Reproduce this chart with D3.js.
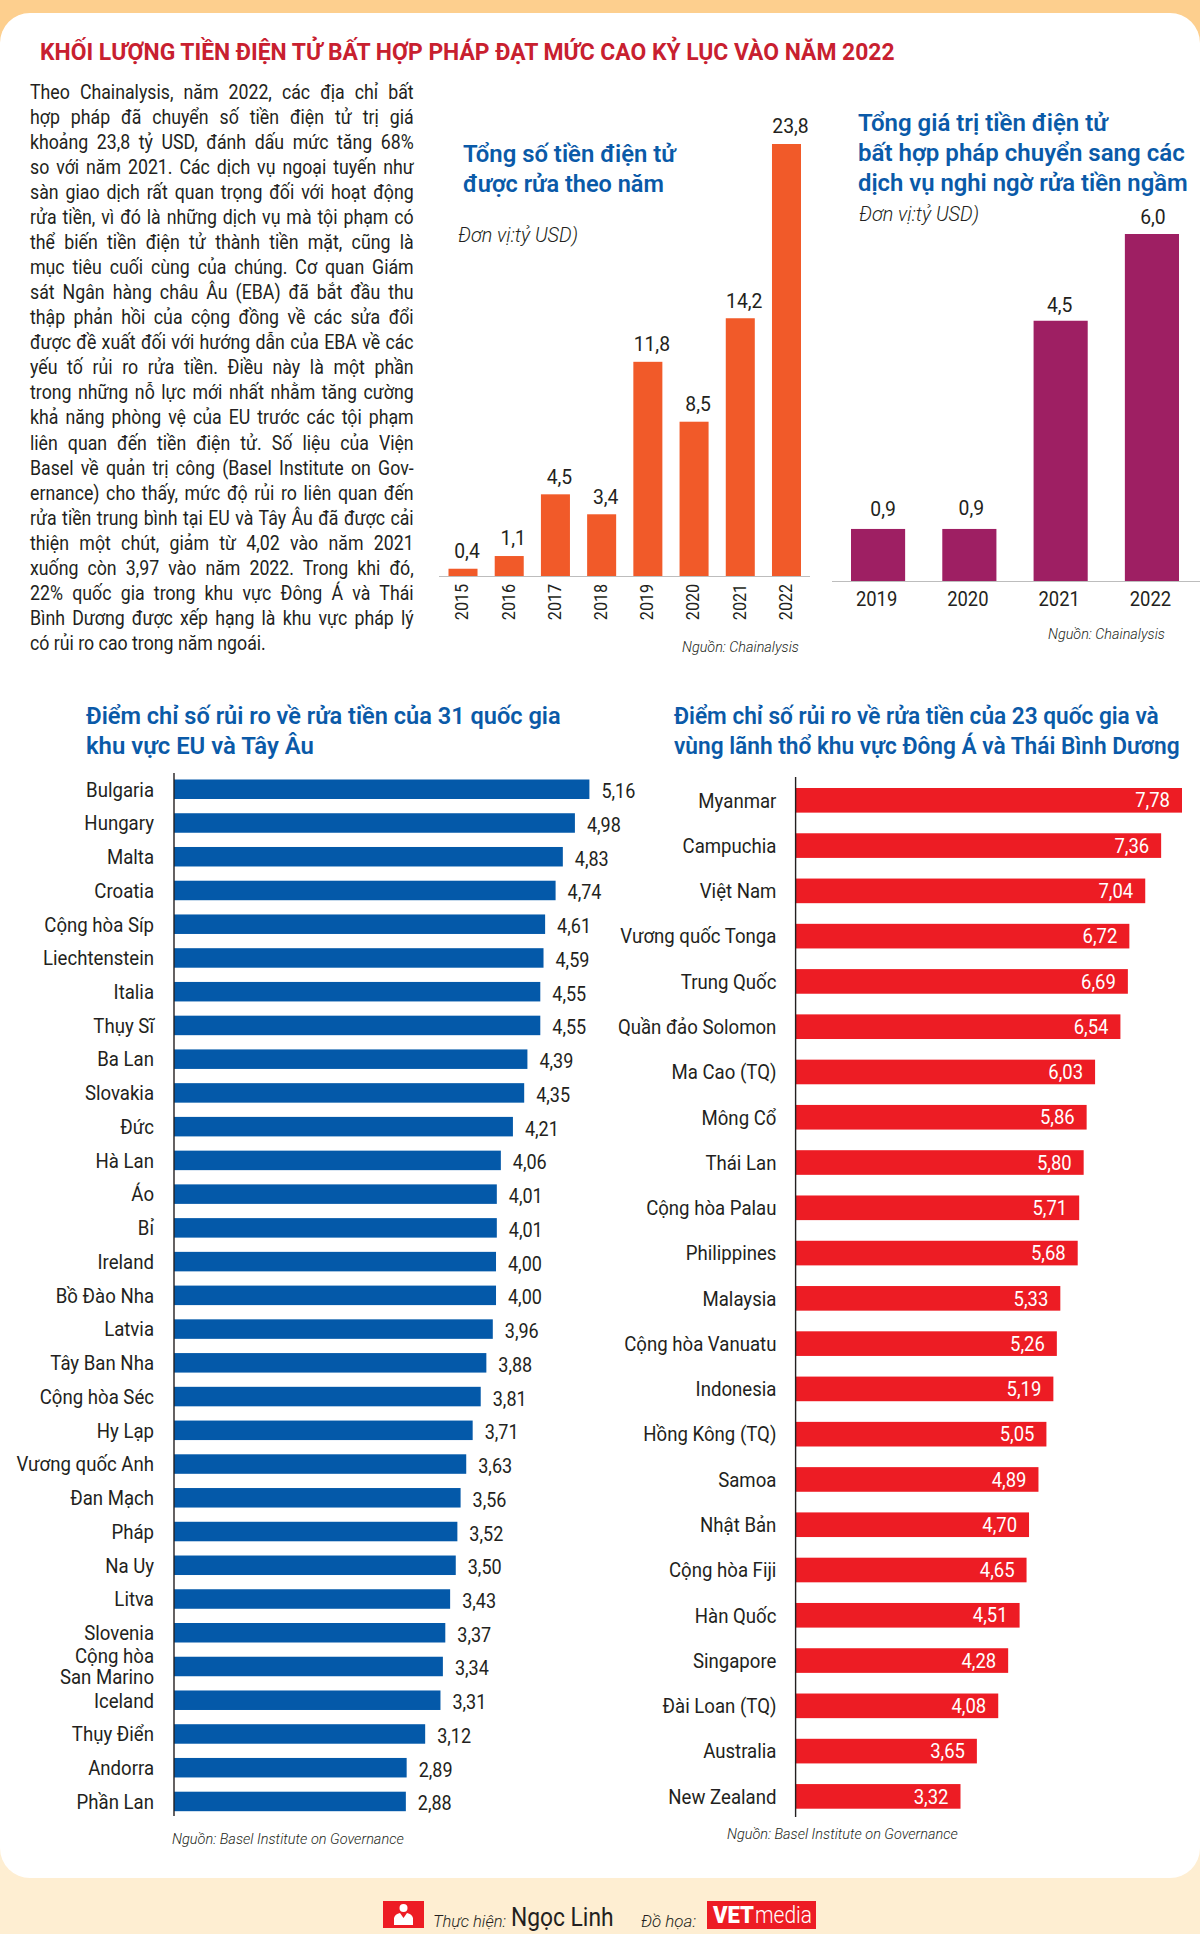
<!DOCTYPE html>
<html><head><meta charset="utf-8">
<script src="https://cdn.jsdelivr.net/npm/d3@7"></script>
<style>html,body{margin:0;padding:0;background:#feeed2}svg{display:block}text{font-family:Roboto,sans-serif;fill:#231f20}</style>
</head><body><div id="c"></div>
<script>
const mainTitle="KHỐI LƯỢNG TIỀN ĐIỆN TỬ BẤT HỢP PHÁP ĐẠT MỨC CAO KỶ LỤC VÀO NĂM 2022";
const bodyLines=["Theo Chainalysis, năm 2022, các địa chỉ bất","hợp pháp đã chuyển số tiền điện tử trị giá","khoảng 23,8 tỷ USD, đánh dấu mức tăng 68%","so với năm 2021. Các dịch vụ ngoại tuyến như","sàn giao dịch rất quan trọng đối với hoạt động","rửa tiền, vì đó là những dịch vụ mà tội phạm có","thể biến tiền điện tử thành tiền mặt, cũng là","mục tiêu cuối cùng của chúng. Cơ quan Giám","sát Ngân hàng châu Âu (EBA) đã bắt đầu thu","thập phản hồi của cộng đồng về các sửa đổi","được đề xuất đối với hướng dẫn của EBA về các","yếu tố rủi ro rửa tiền. Điều này là một phần","trong những nỗ lực mới nhất nhằm tăng cường","khả năng phòng vệ của EU trước các tội phạm","liên quan đến tiền điện tử. Số liệu của Viện","Basel về quản trị công (Basel Institute on Gov-","ernance) cho thấy, mức độ rủi ro liên quan đến","rửa tiền trung bình tại EU và Tây Âu đã được cải","thiện một chút, giảm từ 4,02 vào năm 2021","xuống còn 3,97 vào năm 2022. Trong khi đó,","22% quốc gia trong khu vực Đông Á và Thái","Bình Dương được xếp hạng là khu vực pháp lý","có rủi ro cao trong năm ngoái."];
const launderYears=["2015","2016","2017","2018","2019","2020","2021","2022"];
const launderValues=[0.4,1.1,4.5,3.4,11.8,8.5,14.2,23.8];
const suspectYears=["2019","2020","2021","2022"];
const suspectValues=[0.9,0.9,4.5,6.0];
const euNames=["Bulgaria","Hungary","Malta","Croatia","Cộng hòa Síp","Liechtenstein","Italia","Thụy Sĩ","Ba Lan","Slovakia","Đức","Hà Lan","Áo","Bỉ","Ireland","Bồ Đào Nha","Latvia","Tây Ban Nha","Cộng hòa Séc","Hy Lạp","Vương quốc Anh","Đan Mạch","Pháp","Na Uy","Litva","Slovenia","Cộng hòa\nSan Marino","Iceland","Thụy Điển","Andorra","Phần Lan"];
const euValues=[5.16,4.98,4.83,4.74,4.61,4.59,4.55,4.55,4.39,4.35,4.21,4.06,4.01,4.01,4.00,4.00,3.96,3.88,3.81,3.71,3.63,3.56,3.52,3.50,3.43,3.37,3.34,3.31,3.12,2.89,2.88];
const apNames=["Myanmar","Campuchia","Việt Nam","Vương quốc Tonga","Trung Quốc","Quần đảo Solomon","Ma Cao (TQ)","Mông Cổ","Thái Lan","Cộng hòa Palau","Philippines","Malaysia","Cộng hòa Vanuatu","Indonesia","Hồng Kông (TQ)","Samoa","Nhật Bản","Cộng hòa Fiji","Hàn Quốc","Singapore","Đài Loan (TQ)","Australia","New Zealand"];
const apValues=[7.78,7.36,7.04,6.72,6.69,6.54,6.03,5.86,5.80,5.71,5.68,5.33,5.26,5.19,5.05,4.89,4.70,4.65,4.51,4.28,4.08,3.65,3.32];

const BLUE="#0a5aa8",INK="#231f20",NAME_CONDENSE=0.93;
const fmt1=v=>d3.format(".1f")(v).replace(".",","), fmt2=v=>d3.format(".2f")(v).replace(".",",");
const svg=d3.select("#c").append("svg").attr("width",1200).attr("height",1934);

svg.append("rect").attr("width",1200).attr("height",60).attr("fill","#fdcf8e");
svg.append("rect").attr("y",60).attr("width",1200).attr("height",1874).attr("fill","#feeed2");
svg.append("rect").attr("y",13).attr("width",1200).attr("height",1865).attr("rx",30).attr("fill","#fff");

function squeeze(sel,f){sel.each(function(){const w=this.getComputedTextLength();
  d3.select(this).attr("textLength",w*f).attr("lengthAdjust","spacingAndGlyphs");});return sel;}
function put(t,x,y,size,o={}){
  const s=svg.append("text").text(t).attr("dy",".35em").attr("font-size",size)
    .attr("font-weight",o.weight||400).attr("font-style",o.italic?"italic":"normal")
    .style("fill",o.fill||INK).attr("text-anchor",o.anchor||"start");
  const k=o.width?o.width/s.node().getComputedTextLength():1;
  s.attr("transform",`translate(${x},${y}) scale(${k},1)`);
  return s;}

put(mainTitle,40,51,24.5,{weight:700,fill:"#c8202f",width:855});

bodyLines.forEach((l,i)=>{
  const y=92+i*25.05,tw=384;
  const g=svg.append("g").attr("transform",`translate(30,${y})`);
  const t=g.append("text").text(l).attr("dy",".35em").attr("font-size",19.5);
  const w=t.node().getComputedTextLength();
  let c=0.91; if(w*c>tw) c=tw/w;
  const last=i===bodyLines.length-1;
  if(!last&&w*c<tw){const n=l.split(" ").length-1;t.style("word-spacing",((tw/c-w)/n)+"px");}
  g.attr("transform",`translate(30,${y}) scale(${c},1)`);
});

// Chart 1
put("Tổng số tiền điện tử",463,153,24.5,{weight:600,fill:BLUE,width:213});
put("được rửa theo năm",463,183.5,24.5,{weight:600,fill:BLUE,width:201});
put("Đơn vị:tỷ USD)",458,235,20,{italic:true,weight:300,width:120});
const x1=d3.scaleBand().domain(launderYears).range([448.5,801]).paddingInner(0.372);
const y1=d3.scaleLinear().domain([0,23.8]).range([576,144]);
svg.append("g").selectAll("rect").data(launderValues).join("rect")
  .attr("x",(d,i)=>x1(launderYears[i])).attr("width",x1.bandwidth())
  .attr("y",d=>y1(d)).attr("height",d=>y1(0)-y1(d)).attr("fill","#f15a29");
svg.append("line").attr("x1",439).attr("x2",810).attr("y1",576.5).attr("y2",576.5).attr("stroke","#bdbdbd");
svg.append("g").selectAll("text").data(launderValues).join("text")
  .attr("x",(d,i)=>x1(launderYears[i])+x1.bandwidth()/2+4).attr("y",d=>y1(d)-18).attr("dy",".35em")
  .attr("text-anchor","middle").attr("font-size",21).text(fmt1).call(squeeze,0.92);
const ax1=svg.append("g").attr("transform","translate(0,576)").call(d3.axisBottom(x1).tickSize(0));
ax1.select(".domain").remove();
ax1.selectAll("text").style("font-family","Roboto").attr("font-size",18).style("fill",INK)
  .attr("transform","rotate(-90)").attr("text-anchor","middle").attr("x",-26).attr("y",-1).attr("dy",".35em").call(squeeze,0.9);
put("Nguồn: Chainalysis",682,647,15,{italic:true,weight:300,width:117});

// Chart 2
put("Tổng giá trị tiền điện tử",858,122.5,24.5,{weight:600,fill:BLUE,width:250});
put("bất hợp pháp chuyển sang các",858,152.5,24.5,{weight:600,fill:BLUE,width:327});
put("dịch vụ nghi ngờ rửa tiền ngầm",858,182.5,24.5,{weight:600,fill:BLUE,width:330});
put("Đơn vị:tỷ USD)",859,214,20,{italic:true,weight:300,width:120});
const x2=d3.scaleBand().domain(suspectYears).range([851,1179]).paddingInner(0.407);
const y2=d3.scaleLinear().domain([0,6]).range([581,234]);
const suspectNudgeX=[5,2,-1,1], suspectNudgeY=[-4,-5,0,-1];
svg.append("g").selectAll("rect").data(suspectValues).join("rect")
  .attr("x",(d,i)=>x2(suspectYears[i])).attr("width",x2.bandwidth())
  .attr("y",d=>y2(d)).attr("height",d=>y2(0)-y2(d)).attr("fill","#9e1f63");
svg.append("line").attr("x1",832).attr("x2",1200).attr("y1",581.5).attr("y2",581.5).attr("stroke","#bdbdbd");
svg.append("g").selectAll("text").data(suspectValues).join("text")
  .attr("x",(d,i)=>x2(suspectYears[i])+x2.bandwidth()/2+suspectNudgeX[i]).attr("y",(d,i)=>y2(d)-16+suspectNudgeY[i]).attr("dy",".35em")
  .attr("text-anchor","middle").attr("font-size",21).text(fmt1).call(squeeze,0.92);
const ax2=svg.append("g").attr("transform","translate(-1.5,581)").call(d3.axisBottom(x2).tickSize(0));
ax2.select(".domain").remove();
ax2.selectAll("text").style("font-family","Roboto").attr("font-size",20).style("fill",INK)
  .attr("y",18).attr("dy",".35em").call(squeeze,0.92);
put("Nguồn: Chainalysis",1048,634,15,{italic:true,weight:300,width:117});

// EU chart
put("Điểm chỉ số rủi ro về rửa tiền của 31 quốc gia",86,716,24,{weight:600,fill:BLUE,width:475});
put("khu vực EU và Tây Âu",86,746,24,{weight:600,fill:BLUE,width:228});
const y3=d3.scaleBand().domain(euNames).range([779.5,1811.2]).paddingInner(0.422);
const x3=d3.scaleLinear().domain([0,5.16]).range([174,589.4]);
svg.append("g").selectAll("rect").data(euValues).join("rect")
  .attr("x",x3(0)).attr("y",(d,i)=>y3(euNames[i])).attr("height",y3.bandwidth())
  .attr("width",d=>x3(d)-x3(0)).attr("fill","#0459a9");
svg.append("line").attr("x1",174).attr("x2",174).attr("y1",773).attr("y2",1816).attr("stroke",INK).attr("stroke-width",1.4);
svg.append("g").selectAll("text").data(euValues).join("text")
  .attr("x",d=>x3(d)+12).attr("y",(d,i)=>y3(euNames[i])+y3.bandwidth()/2+2).attr("dy",".35em")
  .attr("font-size",20).text(fmt2).call(squeeze,0.9);
function nameAxis(scale,xPos,size,lead,dy){
  const a=svg.append("g").attr("transform",`translate(${xPos},${dy})`).call(d3.axisLeft(scale).tickSize(0));
  a.select(".domain").remove();
  a.selectAll(".tick text").each(function(d){
    const parts=d.split("\n"),t=d3.select(this);
    t.text(parts[0]).style("font-family","Roboto").attr("font-size",size).style("fill",INK)
     .attr("x",0).attr("text-anchor","end").attr("dy",parts.length>1?(-lead/2/size+.35)+"em":".35em");
    if(parts.length>1){
      d3.select(this.parentNode).append("text").text(parts[1]).attr("font-size",size)
        .attr("text-anchor","end").attr("dy",(lead/2/size+.35)+"em").style("font-family","Roboto").style("fill",INK);
    }
  });
  a.selectAll(".tick text").call(squeeze,NAME_CONDENSE);
}
nameAxis(y3,154,20,21,0.3);
put("Nguồn: Basel Institute on Governance",172,1839,15,{italic:true,weight:300,width:232});

// Asia-Pacific chart
put("Điểm chỉ số rủi ro về rửa tiền của 23 quốc gia và",674,716,24,{weight:600,fill:BLUE,width:485});
put("vùng lãnh thổ khu vực Đông Á và Thái Bình Dương",674,746,24,{weight:600,fill:BLUE,width:506});
const y4=d3.scaleBand().domain(apNames).range([788,1808.7]).paddingInner(0.456);
const x4=d3.scaleLinear().domain([0,7.78]).range([795.6,1182]);
svg.append("g").selectAll("rect").data(apValues).join("rect")
  .attr("x",x4(0)).attr("y",(d,i)=>y4(apNames[i])).attr("height",y4.bandwidth())
  .attr("width",d=>x4(d)-x4(0)).attr("fill","#ed1c24");
svg.append("line").attr("x1",795.6).attr("x2",795.6).attr("y1",777).attr("y2",1817).attr("stroke",INK).attr("stroke-width",1.4);
svg.append("g").selectAll("text").data(apValues).join("text")
  .attr("x",d=>x4(d)-12).attr("y",(d,i)=>y4(apNames[i])+y4.bandwidth()/2).attr("dy",".35em")
  .attr("text-anchor","end").attr("font-size",20.5).style("fill","#fff").text(fmt2).call(squeeze,0.9);
nameAxis(y4,776.4,20,21,0.3);
put("Nguồn: Basel Institute on Governance",727,1834,15,{italic:true,weight:300,width:231});

// Footer
svg.append("rect").attr("x",383).attr("y",1901).attr("width",41).attr("height",27).attr("fill","#ed1c24");
svg.append("circle").attr("cx",403.5).attr("cy",1908).attr("r",4).attr("fill","#fff");
const person=d3.path();person.moveTo(394,1925);person.lineTo(394,1918);person.quadraticCurveTo(395,1914,400,1913);person.lineTo(403.5,1918);person.lineTo(407,1913);person.quadraticCurveTo(412,1914,413,1918);person.lineTo(413,1925);person.closePath();
svg.append("path").attr("d",person.toString()).attr("fill","#fff");
put("Thực hiện:",433,1921,17,{italic:true,weight:300,width:73});
put("Ngọc Linh",511,1917.5,25,{width:102.6});
put("Đồ họa:",641,1921,17,{italic:true,weight:300,width:55});
svg.append("rect").attr("x",707).attr("y",1901).attr("width",109).attr("height",28).attr("fill","#ed1c24");
put("VET",713,1915,24,{weight:900,fill:"#fff",width:41});
put("media",755,1915,24,{weight:300,fill:"#fff",width:57});
</script></body></html>
